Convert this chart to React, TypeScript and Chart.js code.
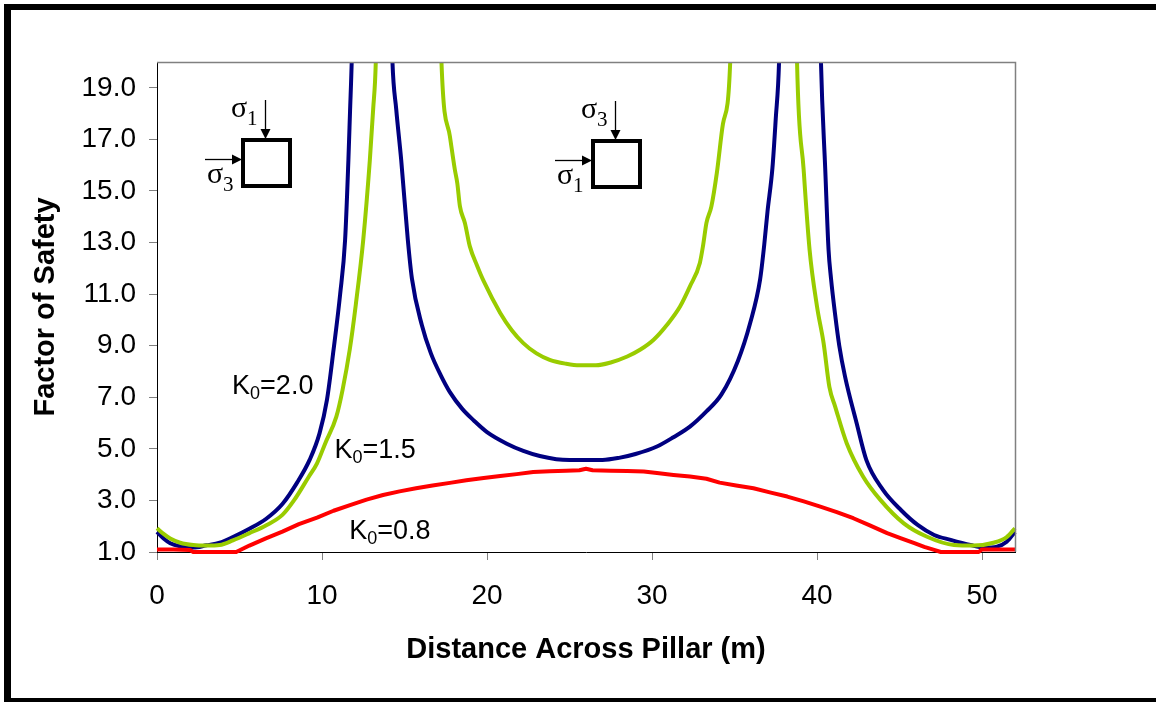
import React, { useEffect, useRef } from "react";
import { Chart, registerables } from "chart.js";

Chart.register(...registerables);

const SANS = '"Liberation Sans", Arial, Helvetica, sans-serif';
const SERIF = '"Liberation Serif", "Times New Roman", serif';

// Axis ticks
const xTicks = [0, 10, 20, 30, 40, 50];
const yTicks = [1, 3, 5, 7, 9, 11, 13, 15, 17, 19];

// K0 = 2.0 (null breaks the line where it runs off the top of the plot)
const k20Distance = [0, 0.4, 0.8, 1.4, 2.2, 3.0, 3.8, 4.6, 5.6, 6.6, 7.6, 8.5, 9.25, 9.85, 10.3, 10.7, 11.1, 11.4, 11.6, 11.7, 11.8, 11.9, 13.0, 14.15, 14.27, 14.5, 14.8, 15.2, 15.45, 16.05, 16.6, 17.2, 17.75, 18.5, 19.2, 20.0, 21.2, 22.2, 23.2, 24.2, 25.0, 26.0, 27.0, 28.0, 29.0, 30.3, 31.3, 32.3, 33.3, 34.2, 35.2, 35.95, 36.55, 36.8, 37.0, 37.3, 37.5, 37.7, 37.8, 39.0, 40.15, 40.24, 40.5, 40.7, 40.85, 41.1, 41.35, 41.7, 42.4, 43.0, 44.0, 45.1, 46.1, 47.1, 48.1, 49.3, 50.1, 50.9, 51.5, 52];
const k20Safety = [1.78, 1.52, 1.34, 1.22, 1.17, 1.26, 1.36, 1.58, 1.9, 2.28, 2.86, 3.7, 4.57, 5.6, 6.9, 8.84, 11.0, 13.1, 16.2, 18.1, 20.0, 23, null, 23, 20, 18.16, 16.2, 13.11, 11.6, 9.8, 8.7, 7.85, 7.2, 6.55, 6.1, 5.65, 5.2, 4.92, 4.72, 4.6, 4.57, 4.57, 4.57, 4.65, 4.8, 5.09, 5.45, 5.86, 6.45, 7.1, 8.4, 9.88, 11.56, 12.9, 14.2, 15.9, 17.8, 20, 23, null, 23, 20, 15.83, 12.72, 11.6, 10.2, 9.0, 7.8, 6.0, 4.55, 3.41, 2.62, 2.05, 1.66, 1.47, 1.27, 1.17, 1.21, 1.4, 1.78];

// K0 = 1.5
const k15Distance = [0, 0.4, 0.8, 1.4, 2.2, 3.0, 3.8, 4.6, 5.6, 6.6, 7.6, 8.3, 9.2, 9.7, 10.2, 10.87, 11.25, 11.68, 12.05, 12.5, 12.9, 13.1, 13.26, 13.35, 15.0, 17.15, 17.24, 17.75, 18.05, 18.2, 18.36, 18.66, 18.96, 19.4, 19.8, 20.8, 21.5, 22.2, 23.0, 23.8, 24.8, 25.6, 26.6, 27.5, 28.5, 29.3, 30.1, 30.9, 31.7, 32.3, 32.9, 33.1, 33.3, 33.6, 33.93, 34.3, 34.74, 34.82, 37.0, 38.72, 38.79, 39.19, 39.55, 40.0, 40.4, 40.75, 41.1, 41.8, 42.8, 43.84, 45.26, 46.67, 48.3, 49.5, 50.7, 51.5, 52];
const k15Safety = [1.92, 1.7, 1.52, 1.36, 1.27, 1.25, 1.27, 1.45, 1.73, 2.03, 2.44, 3.0, 3.92, 4.44, 5.22, 6.25, 7.3, 8.84, 10.6, 13.11, 16.2, 18.16, 20, 23, null, 23, 20, 17.12, 15.83, 15.3, 14.4, 13.76, 12.85, 12.1, 11.5, 10.27, 9.6, 9.1, 8.7, 8.45, 8.3, 8.24, 8.24, 8.35, 8.58, 8.85, 9.23, 9.8, 10.52, 11.3, 12.21, 12.9, 13.76, 14.4, 15.7, 17.6, 20, 23, null, 23, 20, 15.83, 12.72, 10.52, 9.1, 7.4, 6.64, 5.22, 3.92, 3.02, 2.11, 1.59, 1.27, 1.25, 1.36, 1.58, 1.92];

// K0 = 0.8
const k08Distance = [0, 1, 2.0, 2.2, 3.5, 4.8, 5.6, 6.6, 7.6, 8.6, 9.7, 10.7, 11.7, 12.7, 13.7, 14.7, 15.7, 16.7, 17.75, 18.75, 19.8, 20.8, 21.8, 22.8, 23.8, 24.8, 25.6, 26.0, 26.4, 27.5, 28.5, 29.5, 30.3, 31.3, 32.3, 33.3, 34.1, 35.1, 36.15, 37.2, 38.2, 39.2, 40.2, 41.2, 42.2, 43.2, 44.25, 45.1, 45.9, 46.5, 47.1, 47.5, 48.5, 49.8, 50.0, 51, 52];
const k08Safety = [1.1, 1.1, 1.08, 1.0, 1.0, 1.0, 1.25, 1.53, 1.79, 2.08, 2.33, 2.6, 2.82, 3.03, 3.21, 3.35, 3.47, 3.58, 3.68, 3.78, 3.87, 3.95, 4.02, 4.1, 4.13, 4.15, 4.17, 4.23, 4.17, 4.15, 4.14, 4.12, 4.06, 3.99, 3.93, 3.84, 3.69, 3.58, 3.47, 3.3, 3.15, 2.96, 2.76, 2.55, 2.31, 2.03, 1.73, 1.53, 1.34, 1.2, 1.08, 1.0, 1.0, 1.0, 1.1, 1.1, 1.1];

// Curve labels "K0=..." anchored in data units (left edge, baseline)
const curveLabelValues = ["2.0", "1.5", "0.8"];
const curveLabelX = [4.55, 10.75, 11.65];
const curveLabelY = [7.13, 4.65, 1.5];

// Stress element sketches: top-left corner of the square in data units
const elementX = [5.1, 26.3];
const elementY = [17.05, 17.0];
const elementTopSub = ["1", "3"];
const elementSideSub = ["3", "1"];

const toPoints = (xs: number[], ys: (number | null)[]) => xs.map((x, i) => ({ x, y: ys[i] }));

const frameBorders = {
  id: "frameBorders",
  beforeDraw(chart: any) {
    const { ctx, width, height } = chart;
    ctx.save();
    ctx.fillStyle = "#ffffff";
    ctx.fillRect(0, 0, width, height);
    ctx.fillStyle = "#000000";
    ctx.fillRect(4, 4, width - 4, 6);
    ctx.fillRect(4, 4, 7, height - 4);
    ctx.fillRect(4, height - 4, width - 4, 4);
    ctx.restore();
  },
  afterDatasetsDraw(chart: any) {
    const { ctx, chartArea: a } = chart;
    ctx.save();
    ctx.strokeStyle = "#808080";
    ctx.lineWidth = 1.5;
    ctx.beginPath();
    ctx.moveTo(a.left, a.top + 0.5);
    ctx.lineTo(a.right + 0.5, a.top + 0.5);
    ctx.lineTo(a.right + 0.5, a.bottom);
    ctx.stroke();
    ctx.restore();
  },
};

function arrowHead(ctx: CanvasRenderingContext2D, tx: number, ty: number, dir: "down" | "right") {
  ctx.beginPath();
  if (dir === "down") {
    ctx.moveTo(tx, ty);
    ctx.lineTo(tx - 5, ty - 10);
    ctx.lineTo(tx + 5, ty - 10);
  } else {
    ctx.moveTo(tx, ty);
    ctx.lineTo(tx - 10, ty - 5);
    ctx.lineTo(tx - 10, ty + 5);
  }
  ctx.closePath();
  ctx.fill();
}

function sigma(ctx: CanvasRenderingContext2D, x: number, y: number, sub: string) {
  ctx.font = `30px ${SERIF}`;
  ctx.fillText("\u03c3", x, y);
  ctx.font = `21px ${SERIF}`;
  ctx.fillText(sub, x + 16, y + 8);
}

const annotations = {
  id: "annotations",
  afterDatasetsDraw(chart: any) {
    const { ctx, scales } = chart;
    const xs = scales.x;
    const ys = scales.y;
    ctx.save();
    ctx.fillStyle = "#000000";
    ctx.strokeStyle = "#000000";
    ctx.textAlign = "left";
    ctx.textBaseline = "alphabetic";

    // K0 curve labels
    curveLabelValues.forEach((val, i) => {
      const px = xs.getPixelForValue(curveLabelX[i]);
      const py = ys.getPixelForValue(curveLabelY[i]);
      ctx.font = `27px ${SANS}`;
      ctx.fillText("K", px, py);
      let cx = px + ctx.measureText("K").width;
      ctx.font = `18px ${SANS}`;
      ctx.fillText("0", cx, py + 5);
      cx += ctx.measureText("0").width;
      ctx.font = `27px ${SANS}`;
      ctx.fillText("=" + val, cx, py);
    });

    // Stress element sketches
    elementX.forEach((ex, i) => {
      const sx = Math.round(xs.getPixelForValue(ex));
      const sy = Math.round(ys.getPixelForValue(elementY[i]));
      ctx.lineWidth = 4;
      ctx.strokeRect(sx + 2, sy + 2, 47, 46);

      ctx.lineWidth = 1.3;
      const ax = sx + 24.5;
      ctx.beginPath();
      ctx.moveTo(ax, sy - 38);
      ctx.lineTo(ax, sy - 9);
      ctx.stroke();
      arrowHead(ctx, ax, sy + 1, "down");

      const ay = sy + 21.5;
      ctx.beginPath();
      ctx.moveTo(sx - 36, ay);
      ctx.lineTo(sx - 9, ay);
      ctx.stroke();
      arrowHead(ctx, sx + 1, ay, "right");

      sigma(ctx, sx - 10, sy - 21, elementTopSub[i]);
      sigma(ctx, sx - 34, sy + 45, elementSideSub[i]);
    });
    ctx.restore();
  },
};

const lineStyle = {
  borderWidth: 4,
  pointRadius: 0,
  fill: false,
  borderJoinStyle: "round" as const,
  spanGaps: false,
  clip: { left: 2, top: 0, right: 2, bottom: 2 },
};

export default function App() {
  const canvasRef = useRef<HTMLCanvasElement>(null);

  useEffect(() => {
    const canvas = canvasRef.current;
    if (!canvas) return;
    Chart.defaults.font.family = SANS;
    const chart = new Chart(canvas, {
      type: "line",
      data: {
        datasets: [
          { label: "K0=0.8", data: toPoints(k08Distance, k08Safety), borderColor: "#ff0000", tension: 0, ...lineStyle },
          { label: "K0=1.5", data: toPoints(k15Distance, k15Safety), borderColor: "#99cc00", cubicInterpolationMode: "monotone", ...lineStyle },
          { label: "K0=2.0", data: toPoints(k20Distance, k20Safety), borderColor: "#000080", cubicInterpolationMode: "monotone", ...lineStyle },
        ],
      },
      options: {
        responsive: false,
        animation: false,
        events: [],
        layout: { padding: { left: 8, top: 62, right: 141, bottom: 25 } },
        plugins: { legend: { display: false }, tooltip: { enabled: false } },
        scales: {
          x: {
            type: "linear",
            min: 0,
            max: 52,
            afterBuildTicks: (s: any) => {
              s.ticks = xTicks.map((v) => ({ value: v }));
            },
            afterFit: (s: any) => {
              s.height = 125;
            },
            ticks: {
              color: "#000000",
              font: { size: 28, family: SANS },
              padding: 19,
              maxRotation: 0,
              autoSkip: false,
              callback: (v: any) => String(v),
            },
            grid: { drawOnChartArea: false, drawTicks: true, tickLength: 8, color: "#808080" },
            border: { display: true, color: "#000000", width: 1 },
            title: {
              display: true,
              text: "Distance Across Pillar (m)",
              color: "#000000",
              font: { size: 29, weight: "bold", family: SANS },
              padding: { top: 0, bottom: 10 },
            },
          },
          y: {
            type: "linear",
            min: 1,
            max: 20,
            afterBuildTicks: (s: any) => {
              s.ticks = yTicks.map((v) => ({ value: v }));
            },
            afterFit: (s: any) => {
              s.width = 149;
            },
            ticks: {
              color: "#000000",
              font: { size: 28, family: SANS },
              padding: 13,
              autoSkip: false,
              callback: (v: any) => Number(v).toFixed(1),
            },
            grid: { drawOnChartArea: false, drawTicks: true, tickLength: 8, color: "#808080" },
            border: { display: true, color: "#000000", width: 1 },
            title: {
              display: true,
              text: "Factor of Safety",
              color: "#000000",
              font: { size: 29, weight: "bold", family: SANS },
              padding: { top: 21, bottom: 0 },
            },
          },
        },
      },
      plugins: [frameBorders, annotations],
    } as any);
    return () => chart.destroy();
  }, []);

  return (
    <div style={{ position: "fixed", left: 0, top: 0, width: 1156, height: 702, background: "#ffffff" }}>
      <canvas ref={canvasRef} width={1156} height={702} style={{ display: "block", width: 1156, height: 702 }} />
    </div>
  );
}
